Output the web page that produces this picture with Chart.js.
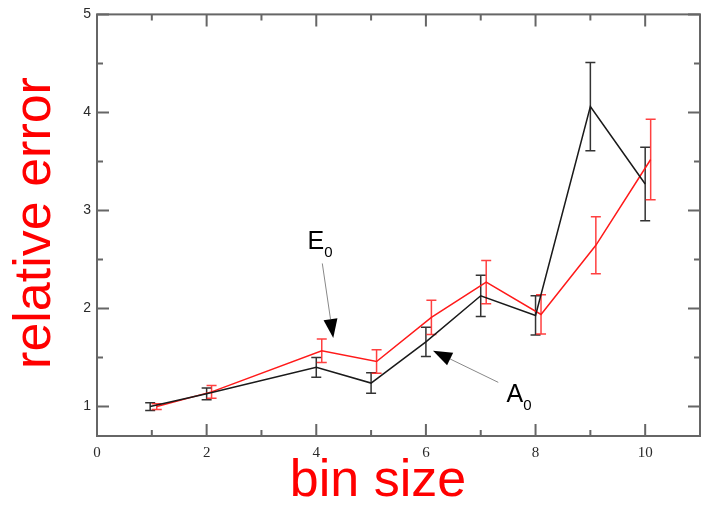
<!DOCTYPE html>
<html lang="en">
<head>
  <meta charset="UTF-8">
  <title>Relative error vs bin size</title>
  <script src="https://cdn.jsdelivr.net/npm/chart.js"></script>
  <style>
    body { margin: 0; background: #fff; }
    canvas { display: block; }
  </style>
</head>
<body>
  <canvas id="errChart" width="702" height="505"></canvas>
  <script>
    // A0 (black) and E0 (red): relative error against bin size, with error bars
    const a0X = [0.97, 2, 4, 5, 6, 7, 8, 9, 10];
    const a0Y = [1.00, 1.13, 1.40, 1.24, 1.66, 2.13, 1.93, 4.06, 3.27];
    const a0Err = [0.04, 0.06, 0.10, 0.105, 0.15, 0.21, 0.20, 0.45, 0.375];

    const e0X = [1.09, 2.09, 4.1, 5.1, 6.1, 7.1, 8.1, 9.1, 10.1];
    const e0Y = [1.00, 1.15, 1.57, 1.46, 1.91, 2.27, 1.94, 2.645, 3.52];
    const e0Err = [0.03, 0.065, 0.12, 0.12, 0.175, 0.22, 0.20, 0.29, 0.41];

    const xTickValues = [0, 1, 2, 3, 4, 5, 6, 7, 8, 9, 10];
    const xTickLabels = ['0', '', '2', '', '4', '', '6', '', '8', '', '10'];
    const yTickValues = [1, 1.5, 2, 2.5, 3, 3.5, 4, 4.5, 5];
    const yTickLabels = ['1', '', '2', '', '3', '', '4', '', '5'];

    // arrow callouts, in data units
    const callouts = [
      { name: 'E', sub: '0', at: [3.84, 2.61], from: [4.11, 2.46], to: [4.31, 1.70] },
      { name: 'A', sub: '0', at: [7.47, 1.05], from: [7.32, 1.247], to: [6.13, 1.57] }
    ];

    function points(xs, ys) {
      return xs.map((v, i) => ({ x: v, y: ys[i] }));
    }

    function drawErrorBars(ctx, xs, ys, xv, yv, err, color) {
      ctx.save();
      ctx.strokeStyle = color;
      ctx.lineWidth = 1.5;
      xv.forEach((v, i) => {
        const px = xs.getPixelForValue(v);
        const top = ys.getPixelForValue(yv[i] + err[i]);
        const bot = ys.getPixelForValue(yv[i] - err[i]);
        ctx.beginPath();
        ctx.moveTo(px, top); ctx.lineTo(px, bot);
        ctx.moveTo(px - 5, top); ctx.lineTo(px + 5, top);
        ctx.moveTo(px - 5, bot); ctx.lineTo(px + 5, bot);
        ctx.stroke();
      });
      ctx.restore();
    }

    function drawArrow(ctx, x1, y1, x2, y2) {
      const ang = Math.atan2(y2 - y1, x2 - x1);
      const len = 19, half = 7;
      const bx = x2 - len * Math.cos(ang), by = y2 - len * Math.sin(ang);
      ctx.strokeStyle = '#888';
      ctx.lineWidth = 1;
      ctx.beginPath();
      ctx.moveTo(x1, y1); ctx.lineTo(bx, by);
      ctx.stroke();
      ctx.fillStyle = '#000';
      ctx.beginPath();
      ctx.moveTo(x2, y2);
      ctx.lineTo(bx + half * Math.sin(ang), by - half * Math.cos(ang));
      ctx.lineTo(bx - half * Math.sin(ang), by + half * Math.cos(ang));
      ctx.closePath();
      ctx.fill();
    }

    const decor = {
      id: 'decor',
      beforeDatasetsDraw(chart) {
        const { ctx, scales: { x, y } } = chart;
        drawErrorBars(ctx, x, y, a0X, a0Y, a0Err, '#333');
        drawErrorBars(ctx, x, y, e0X, e0Y, e0Err, 'rgba(255,30,30,0.85)');
      },
      afterDraw(chart) {
        const { ctx, chartArea: a, scales: { x, y } } = chart;
        ctx.save();

        // frame with inward ticks on all four sides
        ctx.strokeStyle = '#666';
        ctx.lineWidth = 2;
        ctx.strokeRect(a.left, a.top, a.right - a.left, a.bottom - a.top);
        ctx.beginPath();
        xTickValues.forEach((v, i) => {
          const px = x.getPixelForValue(v);
          const len = xTickLabels[i] ? 12 : 6;
          ctx.moveTo(px, a.bottom); ctx.lineTo(px, a.bottom - len);
          ctx.moveTo(px, a.top); ctx.lineTo(px, a.top + len);
        });
        yTickValues.forEach((v, i) => {
          const py = y.getPixelForValue(v);
          const len = yTickLabels[i] ? 12 : 6;
          ctx.moveTo(a.left, py); ctx.lineTo(a.left + len, py);
          ctx.moveTo(a.right, py); ctx.lineTo(a.right - len, py);
        });
        ctx.stroke();

        // callouts
        callouts.forEach(c => {
          drawArrow(ctx, x.getPixelForValue(c.from[0]), y.getPixelForValue(c.from[1]),
            x.getPixelForValue(c.to[0]), y.getPixelForValue(c.to[1]));
          const lx = x.getPixelForValue(c.at[0]);
          const ly = y.getPixelForValue(c.at[1]);
          ctx.fillStyle = '#000';
          ctx.textBaseline = 'alphabetic';
          ctx.textAlign = 'left';
          ctx.font = '25px "Liberation Sans", Arial, sans-serif';
          ctx.fillText(c.name, lx, ly);
          const w = ctx.measureText(c.name).width;
          ctx.font = '15px "Liberation Sans", Arial, sans-serif';
          ctx.fillText(c.sub, lx + w, ly + 8);
        });

        // axis titles
        ctx.fillStyle = '#ff0000';
        ctx.font = '52px "Liberation Sans", Arial, sans-serif';
        ctx.textAlign = 'center';
        ctx.textBaseline = 'alphabetic';
        ctx.fillText('bin size', 378, 496);
        ctx.translate(50, 223);
        ctx.rotate(-Math.PI / 2);
        ctx.fillText('relative error', 0, 0);
        ctx.restore();
      }
    };

    new Chart(document.getElementById('errChart'), {
      type: 'scatter',
      data: {
        datasets: [
          {
            label: 'A0',
            data: points(a0X, a0Y),
            showLine: true,
            borderColor: '#1a1a1a',
            borderWidth: 1.5,
            pointRadius: 0,
            tension: 0
          },
          {
            label: 'E0',
            data: points(e0X, e0Y),
            showLine: true,
            borderColor: '#ff1a1a',
            borderWidth: 1.5,
            pointRadius: 0,
            tension: 0
          }
        ]
      },
      options: {
        responsive: false,
        animation: false,
        layout: { padding: { top: 13, right: 2, left: 0, bottom: 0 } },
        plugins: {
          legend: { display: false },
          tooltip: { enabled: false }
        },
        scales: {
          x: {
            type: 'linear',
            min: 0,
            max: 11,
            grid: { display: false, drawTicks: false },
            border: { display: false },
            afterBuildTicks: scale => { scale.ticks = xTickValues.map(v => ({ value: v })); },
            afterFit: scale => { scale.height = 69; },
            ticks: {
              autoSkip: false,
              maxRotation: 0,
              padding: 8,
              color: '#2a2a2a',
              font: { family: '"Liberation Serif", "Times New Roman", serif', size: 15 },
              callback: (v, i) => xTickLabels[i]
            }
          },
          y: {
            type: 'linear',
            min: 0.7,
            max: 5,
            grid: { display: false, drawTicks: false },
            border: { display: false },
            afterBuildTicks: scale => { scale.ticks = yTickValues.map(v => ({ value: v })); },
            afterFit: scale => { scale.width = 97; },
            ticks: {
              autoSkip: false,
              padding: 6,
              color: '#2a2a2a',
              font: { family: '"Liberation Sans", Arial, sans-serif', size: 14 },
              callback: (v, i) => yTickLabels[i]
            }
          }
        }
      },
      plugins: [decor]
    });
  </script>
</body>
</html>
